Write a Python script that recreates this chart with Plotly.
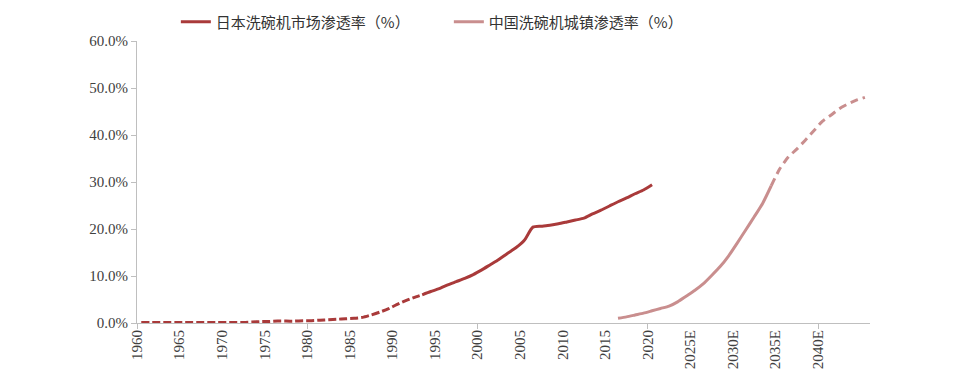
import plotly.graph_objects as go

# ---- data ----
jp_years = list(range(1960, 2021))
jp_values = [0.1] * 13 + [
    0.2, 0.3, 0.3, 0.4, 0.4, 0.4, 0.5, 0.5, 0.6, 0.7, 0.8, 0.9, 1.0,   # 1973-1985
    1.2, 1.7, 2.3, 3.0, 3.9, 4.7, 5.4, 6.0,                             # 1986-1993
    6.7, 7.3, 8.1, 8.8, 9.5, 10.3, 11.3, 12.4, 13.5, 14.8, 16.0, 17.6,  # 1994-2005
    20.4, 20.6, 20.8, 21.1, 21.5, 21.9, 22.3, 23.2, 24.0, 24.9, 25.8,   # 2006-2016
    26.6, 27.5, 28.3, 29.4,                                             # 2017-2020
]
jp_dash_end = 1993          # dashed (historical estimate) up to this year

cn_years = list(range(2016, 2046))
cn_values = [
    1.0, 1.3, 1.7, 2.1, 2.6, 3.1, 3.6, 4.5, 5.7, 6.9,                   # 2016-2025
    8.3, 10.1, 12.0, 14.3, 17.0, 19.8, 22.6, 25.5, 29.2,                 # 2026-2034
    32.8, 35.3, 37.0, 38.9, 40.9, 42.9, 44.2, 45.6, 46.6, 47.4, 48.0,    # 2035-2045
]
cn_dash_start = 2034        # dashed (forecast) from this year

tick_years = list(range(1960, 2045, 5))
tick_labels = [str(y) if y <= 2020 else f"{y}E" for y in tick_years]
major_tick_years = list(range(1960, 2045, 20))

y_ticks = [0, 10, 20, 30, 40, 50, 60]

jp_name = "日本洗碗机市场渗透率（%）"
cn_name = "中国洗碗机城镇渗透率（%）"

# Excel-style category axis: each year sits in the middle of its slot
def pos(years):
    return [y + 0.5 for y in years]

JP_COLOR = "#A93A3A"
CN_COLOR = "#C98E8E"

fig = go.Figure()

# Japan: dashed part and solid part
jp_d = [(y, v) for y, v in zip(jp_years, jp_values) if y <= jp_dash_end]
jp_s = [(y, v) for y, v in zip(jp_years, jp_values) if y >= jp_dash_end]
fig.add_trace(go.Scatter(
    x=pos([a for a, _ in jp_d]), y=[b for _, b in jp_d], mode="lines",
    line=dict(color=JP_COLOR, width=3, dash="8px,3px", shape="spline", smoothing=0.6),
    legendgroup="jp", showlegend=False, hoverinfo="skip"))
fig.add_trace(go.Scatter(
    x=pos([a for a, _ in jp_s]), y=[b for _, b in jp_s], mode="lines",
    line=dict(color=JP_COLOR, width=3, shape="spline", smoothing=0.6),
    name=jp_name, legendgroup="jp", showlegend=True))

# China: solid part and dashed (forecast) part
cn_s = [(y, v) for y, v in zip(cn_years, cn_values) if y <= cn_dash_start]
cn_d = [(y, v) for y, v in zip(cn_years, cn_values) if y >= cn_dash_start]
fig.add_trace(go.Scatter(
    x=pos([a for a, _ in cn_s]), y=[b for _, b in cn_s], mode="lines",
    line=dict(color=CN_COLOR, width=3, shape="spline", smoothing=0.6),
    name=cn_name, legendgroup="cn", showlegend=True))
fig.add_trace(go.Scatter(
    x=pos([a for a, _ in cn_d]), y=[b for _, b in cn_d], mode="lines",
    line=dict(color=CN_COLOR, width=3, dash="8px,5px", shape="spline", smoothing=0.6),
    legendgroup="cn", showlegend=False, hoverinfo="skip"))

x_range = [1960, 2046.1]
tick_font = dict(family="Liberation Serif, DejaVu Serif, serif", size=15, color="#404040")

fig.update_layout(
    width=968, height=380,
    margin=dict(l=129, r=106, t=33, b=65, autoexpand=False),
    paper_bgcolor="white", plot_bgcolor="white",
    showlegend=True,
    legend=dict(
        orientation="h", x=0.053, xanchor="left", y=1.067, yanchor="middle",
        font=dict(family="Noto Sans CJK SC", size=15, color="#333333"),
        entrywidth=228, entrywidthmode="pixels",
        itemwidth=30, bgcolor="rgba(0,0,0,0)",
    ),
    xaxis=dict(
        range=x_range, tickmode="array", tickvals=tick_years, ticktext=tick_labels,
        tickangle=-90, tickfont=tick_font, ticks="", showgrid=False,
        showline=True, linecolor="#BFBFBF", linewidth=1, zeroline=False,
        automargin=False,
    ),
    xaxis2=dict(
        range=x_range, overlaying="x", side="bottom", tickmode="array",
        tickvals=major_tick_years, showticklabels=False, ticks="outside",
        ticklen=5, tickcolor="#BFBFBF", showgrid=False, showline=False,
        zeroline=False, anchor="y", automargin=False,
    ),
    yaxis=dict(
        range=[0, 60], tickmode="array", tickvals=y_ticks,
        ticktext=[f"{v:.1f}%" for v in y_ticks],
        tickfont=tick_font, ticks="outside", ticklen=5, tickcolor="#BFBFBF",
        showgrid=False, showline=True, linecolor="#BFBFBF", linewidth=1,
        zeroline=False, automargin=False,
    ),
)
# invisible trace to keep the secondary x-axis (20-year tick marks) drawn
fig.add_trace(go.Scatter(x=[x_range[0]], y=[0], xaxis="x2", mode="markers",
                         marker=dict(opacity=0), showlegend=False, hoverinfo="skip"))

fig.write_html("out.html")
